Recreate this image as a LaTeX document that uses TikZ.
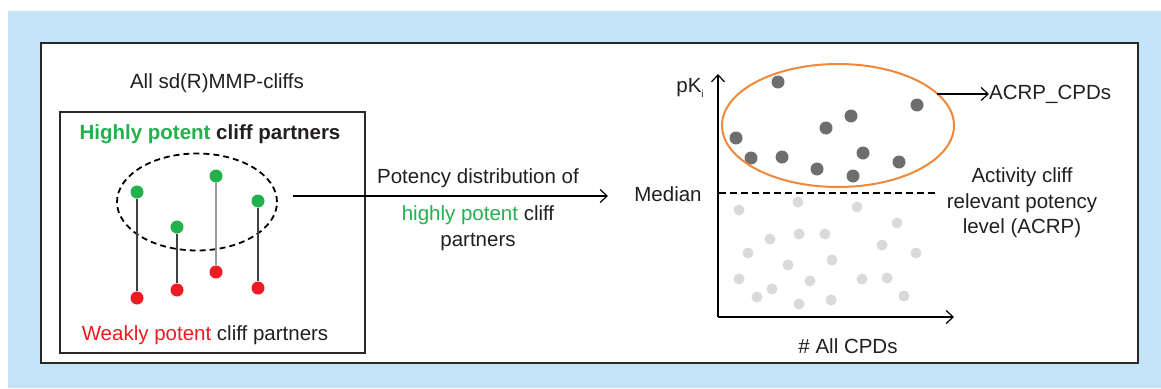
\documentclass[tikz,border=0pt]{standalone}
\usepackage{fontspec}
\setmainfont{Liberation Sans}
\usetikzlibrary{shapes.geometric,arrows.meta}
\definecolor{bgblue}{RGB}{194,228,246}
\definecolor{pgreen}{RGB}{34,177,76}
\definecolor{pred}{RGB}{237,28,36}
\definecolor{porange}{RGB}{240,136,58}
\definecolor{darkdot}{RGB}{110,110,110}
\definecolor{lightdot}{RGB}{218,218,218}
\definecolor{framegray}{RGB}{40,40,40}
\definecolor{txt}{RGB}{35,31,32}
\tikzset{
  lbl/.style={font=\fontsize{20.5}{25.5}\selectfont, text=txt, inner sep=0pt},
  gdot/.style={circle, fill=pgreen, inner sep=0pt, minimum size=13pt},
  rdot/.style={circle, fill=pred, inner sep=0pt, minimum size=13pt},
  ddot/.style={circle, fill=darkdot, inner sep=0pt, minimum size=13pt},
  ldot/.style={circle, fill=lightdot, inner sep=0pt, minimum size=11pt},
  stem/.style={line width=1.2pt, draw=black!75},
  stemlight/.style={line width=1.2pt, draw=black!40},
  arr/.style={line width=1.2pt, -{Straight Barb[length=7pt,width=13pt,line width=1.2pt]}},
}
\begin{document}
\begin{tikzpicture}[x=1pt,y=-1pt]
\useasboundingbox (0,0) rectangle (1161,388);
\fill[bgblue] (8,11) rectangle (1161,388);
\draw[fill=white, draw=framegray, line width=2pt] (41,43) rectangle (1138,363);

% left panel
\node[lbl] (title) at (217,83) {All sd(R)MMP-cliffs};
\draw[line width=2pt, draw=framegray] (60,112) rectangle (365,353);
\node[lbl, font=\fontsize{20.5}{25.5}\selectfont\bfseries] (high) at (210,134) {\textcolor{pgreen}{Highly potent} cliff partners};
\node[lbl] (weak) at (205,335) {\textcolor{pred}{Weakly potent} cliff partners};
\node[ellipse, draw=black, dashed, dash pattern=on 6pt off 4pt, line width=1.8pt, minimum width=160pt, minimum height=97pt] (hp) at (197,202) {};

\node[gdot] (g1) at (137,192) {};
\node[gdot] (g2) at (177,227) {};
\node[gdot] (g3) at (216,176) {};
\node[gdot] (g4) at (258,201) {};
\node[rdot] (r1) at (137,298) {};
\node[rdot] (r2) at (177,290) {};
\node[rdot] (r3) at (216,272) {};
\node[rdot] (r4) at (258,288) {};
\draw[stem] (g1) -- (r1);
\draw[stem] (g2) -- (r2);
\draw[stemlight] (g3) -- (r3);
\draw[stem] (g4) -- (r4);

% middle
\node[lbl] (pd) at (478,178) {Potency distribution of};
\node[lbl, align=center] (pd2) at (478,228) {\textcolor{pgreen}{highly potent} cliff\\partners};
\node[lbl] (median) at (668,194) {Median};
\coordinate (a0) at (293,196);
\coordinate (a1) at (608,196);
\draw[arr] (a0) -- (a1);

% right panel axes
\coordinate (origin) at (718,317);
\coordinate (ytop) at (718,74);
\coordinate (xend) at (954,317);
\draw[arr] (origin) -- (ytop);
\draw[arr] (origin) -- (xend);
\node[lbl] (pk) at (690,88) {pK\raisebox{-0.45ex}{\fontsize{10}{12}\selectfont i}};
\node[lbl] (allcpd) at (848,346) {\# All CPDs};
\coordinate (m0) at (719,193);
\coordinate (m1) at (937,193);
\draw[line width=2pt, dash pattern=on 7pt off 4pt] (m0) -- (m1);
\node[lbl, align=center] (acrp) at (1022,203) {Activity cliff\\relevant potency\\level (ACRP)};

% light dots
\foreach \p [count=\i] in {(739,210),(798,202),(857,207),(897,223),(770,239),(799,234),(825,234),(882,245),(748,253),(916,253),(788,265),(832,260),(739,279),(810,281),(862,279),(887,278),(772,289),(757,297),(799,304),(831,300),(904,296)}
  \node[ldot] (l\i) at \p {};
% dark dots
\foreach \p [count=\i] in {(778,82),(917,105),(851,116),(826,128),(736,138),(751,158),(782,157),(863,153),(899,162),(817,169),(853,176)}
  \node[ddot] (d\i) at \p {};

\node[ellipse, draw=porange, line width=2pt, minimum width=232pt, minimum height=123pt] (acrpell) at (838,125.5) {};
\node[lbl, anchor=west] (acrpcpd) at (989,94) {ACRP\_CPDs};
\coordinate (c0) at (937,94);
\draw[arr] (c0) -- (acrpcpd.west);
\end{tikzpicture}
\end{document}
